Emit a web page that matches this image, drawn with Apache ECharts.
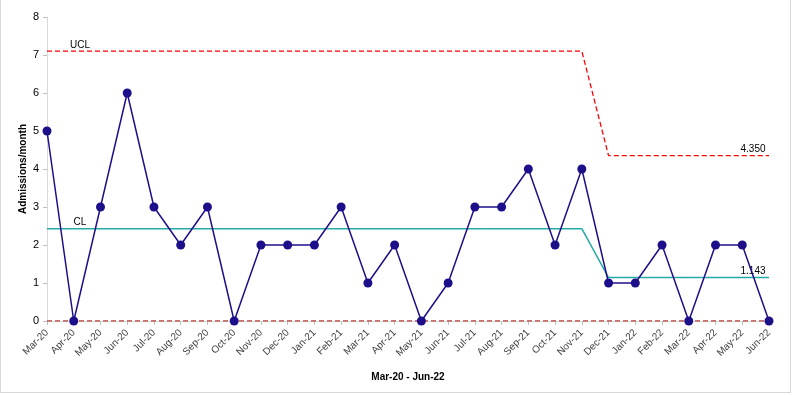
<!DOCTYPE html>
<html><head><meta charset="utf-8">
<script src="https://cdn.jsdelivr.net/npm/echarts@6/dist/echarts.min.js"></script>
<style>
html,body{margin:0;padding:0;background:#fff;}
#c{position:absolute;left:0;top:0;width:789px;height:392px;border:1px solid #d9d9d9;border-top:none;}
</style></head>
<body><div id="c"></div>
<script>
const categories = ["Mar-20","Apr-20","May-20","Jun-20","Jul-20","Aug-20","Sep-20","Oct-20","Nov-20","Dec-20","Jan-21","Feb-21","Mar-21","Apr-21","May-21","Jun-21","Jul-21","Aug-21","Sep-21","Oct-21","Nov-21","Dec-21","Jan-22","Feb-22","Mar-22","Apr-22","May-22","Jun-22"];
const admissions = [5,0,3,6,3,2,3,0,2,2,2,3,1,2,0,1,3,3,4,2,4,1,1,2,0,2,2,0];
const clValues = [2.429,2.429,2.429,2.429,2.429,2.429,2.429,2.429,2.429,2.429,2.429,2.429,2.429,2.429,2.429,2.429,2.429,2.429,2.429,2.429,2.429,1.143,1.143,1.143,1.143,1.143,1.143,1.143];
const uclValues = [7.104,7.104,7.104,7.104,7.104,7.104,7.104,7.104,7.104,7.104,7.104,7.104,7.104,7.104,7.104,7.104,7.104,7.104,7.104,7.104,7.104,4.350,4.350,4.350,4.350,4.350,4.350,4.350];
const lclValues = [0,0,0,0,0,0,0,0,0,0,0,0,0,0,0,0,0,0,0,0,0,0,0,0,0,0,0,0];
const yTicks = [0,1,2,3,4,5,6,7,8];

const font = 'Liberation Sans';
const lblStyle = {fontFamily: font, fontSize: 10, color: '#000'};
function labelled(arr, firstText, lastText) {
  return arr.map((v, i) => {
    if (i === 0) return {value: v, label: Object.assign({show: true, position: 'top', formatter: firstText, offset: [33, 4]}, lblStyle)};
    if (i === arr.length - 1) return {value: v, label: Object.assign({show: true, position: 'top', formatter: lastText, offset: [-16, 4]}, lblStyle)};
    return {value: v, label: {show: false}};
  });
}

const chart = echarts.init(document.getElementById('c'), null, {renderer: 'canvas'});
chart.setOption({
  animation: false,
  backgroundColor: '#fff',
  grid: {left: 46, right: 21, top: 17, bottom: 71},
  xAxis: {
    type: 'category', data: categories, boundaryGap: false,
    name: 'Mar-20 - Jun-22', nameLocation: 'middle', nameGap: 51, nameMoveOverlap: false,
    nameTextStyle: {fontFamily: font, fontSize: 10, fontWeight: 'bold', color: '#000'},
    axisLine: {show: true, lineStyle: {color: '#d9d9d9'}},
    axisTick: {show: true, length: 4, lineStyle: {color: '#bfbfbf'}},
    axisLabel: {rotate: 45, interval: 0, fontFamily: font, fontSize: 10, color: '#404040', margin: 10},
    splitLine: {show: false}
  },
  yAxis: {
    type: 'value', min: yTicks[0], max: yTicks[yTicks.length - 1], interval: 1,
    name: 'Admissions/month', nameLocation: 'middle', nameGap: 19, nameMoveOverlap: false,
    nameTextStyle: {fontFamily: font, fontSize: 10, fontWeight: 'bold', color: '#000'},
    axisLine: {show: true, lineStyle: {color: '#d9d9d9'}},
    axisTick: {show: true, length: 4, lineStyle: {color: '#bfbfbf'}},
    axisLabel: {fontFamily: font, fontSize: 11, color: '#000', margin: 8},
    splitLine: {show: false}
  },
  series: [
    {name: 'LCL', type: 'line', data: lclValues, symbol: 'none', z: 2,
     lineStyle: {color: '#b5443e', width: 1.3, type: [5, 3]}},
    {name: 'CL', type: 'line', data: labelled(clValues, 'CL', '1.143'), symbol: 'circle', symbolSize: 0, showAllSymbol: true, z: 2,
     itemStyle: {color: '#26a9a9'},
     lineStyle: {color: '#26a9a9', width: 1.5}},
    {name: 'UCL', type: 'line', data: labelled(uclValues, 'UCL', '4.350'), symbol: 'circle', symbolSize: 0, showAllSymbol: true, z: 2,
     itemStyle: {color: '#ff0000'},
     lineStyle: {color: '#ff0000', width: 1.3, type: [5, 3]}},
    {name: 'Admissions', type: 'line', data: admissions, symbol: 'circle', symbolSize: 9, z: 5,
     lineStyle: {color: '#1d0f8a', width: 1.5}, itemStyle: {color: '#1d0f8a'}}
  ]
});
</script></body></html>
